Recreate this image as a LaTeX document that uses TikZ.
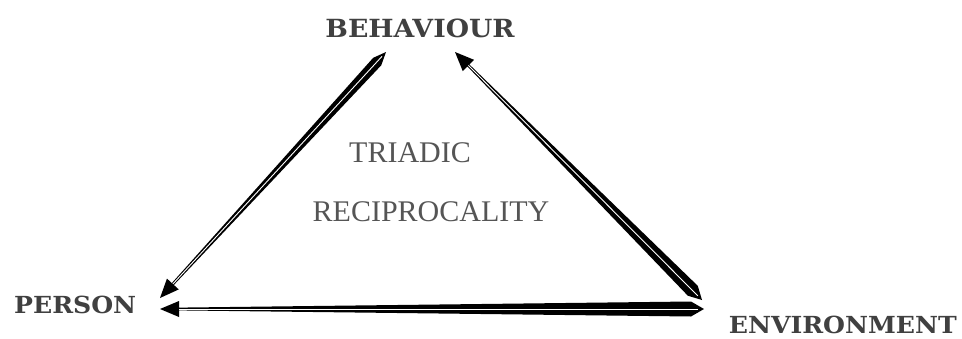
\documentclass[tikz,border=0pt]{standalone}
\usepackage{fontspec}
\setmainfont{Liberation Serif}
\newfontfamily\slabfont[FakeStretch=1.07]{DejaVu Serif}
\definecolor{labelgrey}{HTML}{404040}
\definecolor{notegrey}{HTML}{555555}
\usepackage{tikz}
\usetikzlibrary{calc, positioning}

% tapered arrow: #1 wide (pencil) end, #2 head tip, #3 half width of the wide end
\newcommand{\taperarrow}[3]{%
  \coordinate (hb) at ($(#2)!19pt!(#1)$);
  \coordinate (wb) at ($(#1)!13pt!(#2)$);
  \fill[black] (#2) -- ($(hb)!8pt!90:(#2)$) -- ($(hb)!1.4pt!90:(#2)$)
    -- ($(wb)!#3!-90:(#1)$) -- (#1) -- ($(wb)!#3!90:(#1)$)
    -- ($(hb)!1.4pt!-90:(#2)$) -- ($(hb)!8pt!-90:(#2)$) -- cycle;
  \draw[white, line width=0.9pt] ($(#1)!6pt!(#2)$) -- (hb);
}

\begin{document}
\begin{tikzpicture}[x=1pt, y=-1pt,
  corner/.style={font=\slabfont\bfseries\fontsize{25}{25}\selectfont, labelgrey, inner sep=0pt},
  corner small/.style={corner, font=\slabfont\bfseries\fontsize{23.5}{23.5}\selectfont},
  note/.style={font=\fontsize{30}{30}\selectfont, notegrey, inner sep=0pt, anchor=base}]
\useasboundingbox (0,0) rectangle (962,338);

% Corner labels
\node[corner, anchor=base] (beh) at (420, 37) {BEHAVIOUR};
\node[corner small, anchor=base west] (per) at (14, 313) {PERSON};
\node[corner small, anchor=base east] (env) at (957, 333) {ENVIRONMENT};

% Centre text
\node[note] (tri) at (410, 162) {TRIADIC};
\node[note] (rec) at (431, 221) {RECIPROCALITY};

% Arrow ends
\coordinate (behL) at (386, 52);
\coordinate (behR) at (455, 52);
\coordinate (perU) at (160, 298);
\coordinate (perD) at (160, 309);
\coordinate (envU) at (702, 300);
\coordinate (envD) at (704, 309);

% Tapered arrows
\taperarrow{behL}{perU}{5.5pt}
\taperarrow{envU}{behR}{7pt}
\taperarrow{envD}{perD}{7.5pt}

\end{tikzpicture}
\end{document}
